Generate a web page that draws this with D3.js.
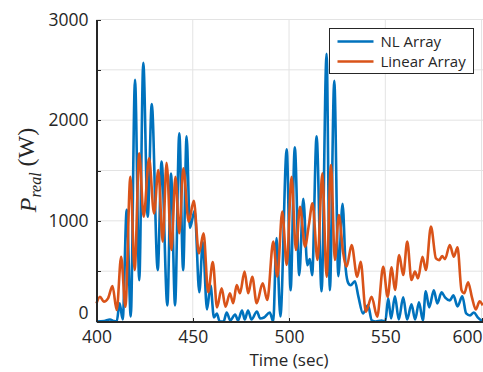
<!DOCTYPE html>
<html>
<head>
<meta charset="utf-8">
<script src="https://cdn.jsdelivr.net/npm/d3@7"></script>
<style>
  html, body { margin: 0; padding: 0; background: #fff; }
  svg { display: block; }
</style>
</head>
<body>
<svg id="chart" width="483" height="372"></svg>
<script>
// Real power of the two arrays over time (s, W)
const nlTime = [400, 404, 407, 409, 410.5, 412, 413.6, 415.7, 417.8, 420, 422.2, 424.3, 426.6, 428.7, 431.8, 433.8, 436.8, 438.7, 440.8, 443, 445, 446.8, 448.5, 451, 453.4, 455.2, 457.4, 459.2, 461, 462.5, 464, 466, 467.6, 469.5, 472, 473.5, 475.6, 477, 478.7, 480.5, 483.3, 485, 487, 490, 491.8, 493.5, 495.5, 498.8, 500.8, 503, 505.3, 507.4, 509.5, 510.8, 512, 514.3, 516.9, 519.5, 521.2, 523.5, 525.6, 527.8, 529.5, 530.8, 532, 534.2, 536, 538.4, 541, 543, 545, 548, 550, 551.5, 553, 555, 557, 559.3, 561.3, 563.6, 565.5, 567.5, 569.5, 571, 572.8, 575.2, 577, 579.2, 581, 583.5, 585.4, 587.5, 590, 592, 594, 596, 598, 600.6];
const nlPower = [0, 5, 20, 5, 0, 180, 20, 1110, 50, 2400, 410, 2570, 1040, 2160, 510, 1590, 160, 1470, 160, 1870, 510, 1840, 930, 1100, 290, 790, 120, 360, 40, 80, 0, 0, 90, 10, 70, 10, 110, 20, 110, 20, 100, 30, 40, 90, 0, 830, 50, 1710, 310, 1730, 460, 1220, 560, 620, 460, 1840, 300, 2660, 310, 2390, 450, 1170, 510, 380, 360, 400, 250, 80, 160, 10, 0, 10, 0, 230, 30, 250, 20, 240, 20, 170, 20, 190, 10, 300, 140, 310, 180, 290, 240, 210, 260, 150, 250, 80, 60, 90, 40, 0];

const linTime = [400, 401.8, 403.8, 406, 408.3, 410.5, 412.8, 415, 417.6, 419.8, 422.2, 424.5, 427.3, 429.9, 432.1, 434.4, 436.4, 438.9, 441, 443, 445.1, 447.9, 450.5, 453.2, 455.6, 458, 460.4, 462.6, 465, 467, 469.3, 471, 472.8, 474.5, 476.9, 478.8, 480.9, 483.2, 486.3, 488.7, 491.8, 493.9, 496.5, 498.8, 501.3, 503.6, 505.7, 508.3, 510.3, 512.2, 514.8, 517.3, 519.5, 521.8, 523.8, 525.9, 528, 529.9, 532.5, 535.4, 537.2, 539.9, 542.9, 545.8, 548.9, 551.2, 553.3, 555, 557.2, 559.3, 561.4, 563.6, 565.4, 567, 569.3, 571.1, 573.7, 576.3, 578, 579.5, 581, 583.5, 585.6, 587.5, 589.6, 591, 593, 595, 597, 599, 600.6];
const linPower = [180, 246, 197, 230, 352, 114, 643, 147, 1438, 511, 1670, 1040, 1620, 1074, 1504, 793, 1577, 710, 1438, 876, 1521, 991, 1200, 677, 876, 290, 590, 140, 330, 147, 280, 181, 362, 280, 495, 280, 445, 181, 379, 213, 793, 445, 1091, 561, 1438, 710, 1140, 743, 960, 1174, 611, 1472, 445, 1554, 611, 1058, 700, 544, 760, 445, 594, 97, 246, 48, 544, 246, 538, 313, 661, 462, 793, 412, 495, 429, 643, 511, 942, 627, 610, 650, 620, 760, 643, 737, 310, 280, 390, 240, 120, 200, 160];

const seriesNames = ["NL Array", "Linear Array"];
const seriesColors = ["#0072BD", "#D95319"];
const xTicks = [400, 450, 500, 550, 600];
const yTicks = [0, 500, 1000, 1500, 2000, 2500, 3000];
const yTickLabels = ["0", "", "1000", "", "2000", "", "3000"];

const svg = d3.select("#chart");
const plotLeft = 96.5, plotRight = 483.5, plotTop = 19.5, plotBottom = 321.5;

const x = d3.scaleLinear().domain([400, 601]).range([plotLeft, plotRight]);
const y = d3.scaleLinear().domain([0, 3000]).range([plotBottom, plotTop]);

const axisColor = "#262626";
const gridColor = "#e3e3e3";
const tickFont = "'Open Sans', sans-serif";

// grid
const grid = svg.append("g");
grid.selectAll(".gy").data(yTicks).join("line")
  .attr("x1", plotLeft).attr("x2", plotRight)
  .attr("y1", d => y(d)).attr("y2", d => y(d))
  .attr("stroke", gridColor).attr("stroke-width", 1);
grid.selectAll(".gx").data(xTicks).join("line")
  .attr("x1", d => x(d)).attr("x2", d => x(d))
  .attr("y1", plotTop).attr("y2", plotBottom)
  .attr("stroke", gridColor).attr("stroke-width", 1);

// series: NL Array first, Linear Array on top
const plot = svg.append("g");
const series = [
  { t: nlTime, v: nlPower },
  { t: linTime, v: linPower }
];
const line = d3.line()
  .x(d => x(d[0]))
  .y(d => y(d[1]))
  .curve(d3.curveMonotoneX);

series.forEach((s, i) => {
  const pts = s.t.map((t, k) => [t, s.v[k]]);
  plot.append("path")
    .attr("d", line(pts))
    .attr("fill", "none")
    .attr("stroke", seriesColors[i])
    .attr("stroke-width", 2.6)
    .attr("stroke-linejoin", "round");
});

// axes
const yAxis = d3.axisLeft(y).tickValues(yTicks)
  .tickSizeInner(-4).tickSizeOuter(0)
  .tickFormat((d, i) => yTickLabels[i]);
const gy = svg.append("g").attr("transform", `translate(${plotLeft},0)`).call(yAxis);
gy.select(".domain").attr("stroke", axisColor).attr("stroke-width", 1.2);
gy.selectAll(".tick line").attr("stroke", axisColor);
gy.selectAll(".tick text")
  .attr("x", -8).attr("dy", "0.32em")
  .attr("fill", axisColor)
  .style("font-family", tickFont).style("font-size", "17.5px");
// lift the zero label clear of the time axis labels
gy.selectAll(".tick text").filter(d => d === 0).attr("y", -9);

const xAxis = d3.axisBottom(x).tickValues(xTicks)
  .tickSizeInner(-4).tickSizeOuter(0)
  .tickFormat(d3.format("d"));
const gx = svg.append("g").attr("transform", `translate(0,${plotBottom})`).call(xAxis);
gx.select(".domain").attr("stroke", axisColor).attr("stroke-width", 1.2);
gx.selectAll(".tick line").attr("stroke", axisColor);
gx.selectAll(".tick text")
  .attr("y", 9).attr("dy", "0.71em")
  .attr("fill", axisColor)
  .style("font-family", tickFont).style("font-size", "17.5px");
// keep the last tick label inside the figure
gx.selectAll(".tick text").filter(d => d === 600)
  .attr("text-anchor", "end").attr("x", 482 - x(600));

svg.selectAll(".domain, .tick line").attr("shape-rendering", "crispEdges");

// axis titles
svg.append("text")
  .attr("x", (plotLeft + x(600)) / 2).attr("y", 366)
  .attr("text-anchor", "middle")
  .attr("fill", axisColor)
  .style("font-family", tickFont).style("font-size", "17px")
  .text("Time (sec)");

const yl = svg.append("text")
  .attr("transform", "translate(36,170) rotate(-90)")
  .attr("text-anchor", "middle")
  .attr("fill", axisColor)
  .style("font-family", "'Liberation Serif', serif").style("font-size", "24px");
yl.append("tspan").style("font-style", "italic").text("P");
yl.append("tspan").style("font-style", "italic").style("font-size", "16px")
  .attr("dy", "0.3em").text("real");
yl.append("tspan").attr("dy", "-0.3em").text("\u00a0(W)");

// legend
const lg = svg.append("g");
lg.append("rect")
  .attr("x", 329.5).attr("y", 28.5).attr("width", 144).attr("height", 45)
  .attr("fill", "#fff").attr("stroke", axisColor).attr("stroke-width", 1);
seriesNames.forEach((name, i) => {
  const ly = 41.5 + i * 20;
  lg.append("line")
    .attr("x1", 337.5).attr("x2", 373.5).attr("y1", ly).attr("y2", ly)
    .attr("stroke", seriesColors[i]).attr("stroke-width", 2.6);
  lg.append("text")
    .attr("x", 380.5).attr("y", ly).attr("dy", "0.35em")
    .attr("fill", axisColor)
    .style("font-family", tickFont).style("font-size", "15px")
    .text(name);
});
</script>
</body>
</html>
